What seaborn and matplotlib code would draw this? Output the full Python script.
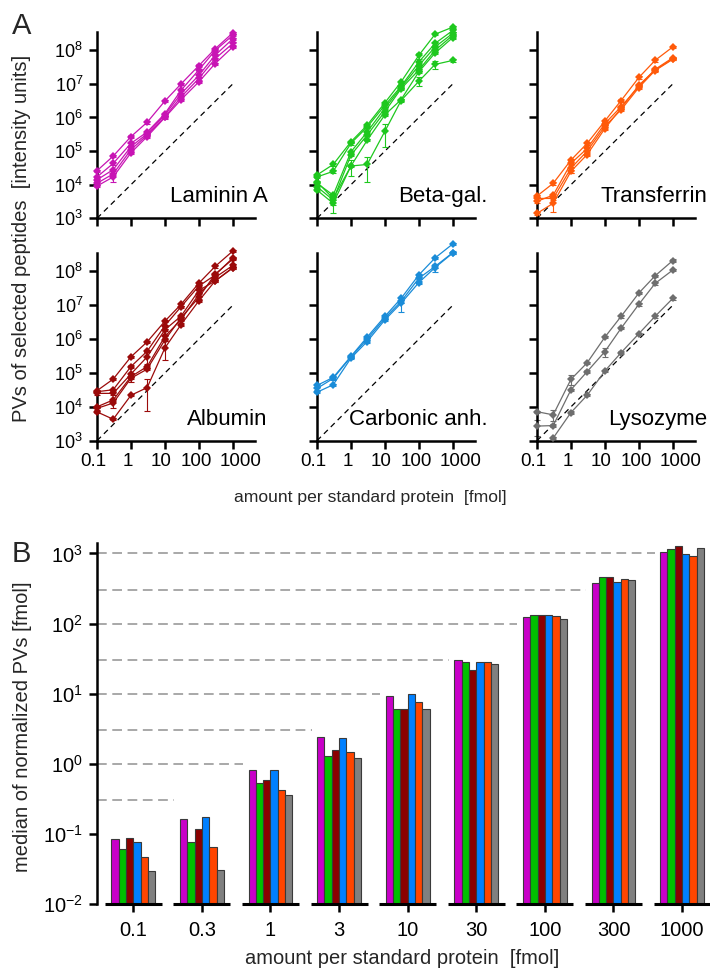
import numpy as np
import pandas as pd
import matplotlib
matplotlib.use("Agg")
import matplotlib.pyplot as plt
import matplotlib.transforms as mtransforms
import seaborn as sns
from matplotlib.ticker import FixedLocator, NullLocator, FuncFormatter, LogFormatterMathtext

# ---------------- data ----------------
amounts = [0.1, 0.3, 1, 3, 10, 30, 100, 300, 1000]
amount_labels = ["0.1", "0.3", "1", "3", "10", "30", "100", "300", "1000"]
axis_ticks_a = [0.1, 1, 10, 100, 1000]

laminin = [
    [2.6e4, 7.1e4, 2.7e5, 7.2e5, 3.1e6, 1.0e7, 3.5e7, 1.1e8, 3.3e8],
    [1.7e4, 4.3e4, 1.7e5, 3.7e5, 1.3e6, 6.5e6, 2.6e7, 9.8e7, 2.8e8],
    [1.4e4, 2.8e4, 1.35e5, 3.3e5, 1.2e6, 5.1e6, 1.8e7, 7.1e7, 2.2e8],
    [1.1e4, 2.1e4, 1.1e5, 3.0e5, 1.05e6, 4.1e6, 1.45e7, 5.6e7, 1.6e8],
    [9.1e3, 1.7e4, 8.9e4, 2.7e5, 1.0e6, 3.4e6, 1.15e7, 4.0e7, 1.26e8],
]
beta_gal = [
    [1.95e4, 4.0e4, 1.9e5, 5.9e5, 2.75e6, 1.15e7, 7.1e7, 3.0e8, 4.9e8],
    [1.7e4, 2.5e4, 1.7e5, 5.2e5, 2.3e6, 8.5e6, 4.5e7, 1.6e8, 3.9e8],
    [1.1e4, 4.9e3, 9.5e4, 3.7e5, 1.9e6, 7.8e6, 3.5e7, 1.26e8, 3.2e8],
    [8.7e3, 3.5e3, 7.6e4, 3.0e5, 1.5e6, 7.2e6, 2.6e7, 1.0e8, 2.8e8],
    [6.9e3, 2.8e3, 3.6e4, 2.1e5, 1.2e6, 3.4e6, 2.3e7, 8.3e7, 2.4e8],
    [1.2e4, 3.9e3, 3.6e4, 4.0e4, 3.9e5, 3.2e6, 1.2e7, 3.8e7, 5.0e7],
]
transferrin = [
    [4.6e3, 1.1e4, 5.4e4, 1.7e5, 7.9e5, 3.2e6, 1.55e7, 5.0e7, 1.26e8],
    [3.2e3, 4.9e3, 4.3e4, 1.2e5, 6.6e5, 2.1e6, 8.5e6, 2.7e7, 6.0e7],
    [3.9e3, 3.9e3, 3.1e4, 1.0e5, 5.5e5, 1.7e6, 7.8e6, 2.5e7, 5.4e7],
    [1.4e3, 2.8e3, 2.5e4, 7.9e4, 4.7e5, 1.9e6, 9.1e6, 2.6e7, 5.6e7],
]
albumin = [
    [3.0e4, 6.6e4, 3.0e5, 8.3e5, 3.4e6, 1.07e7, 4.5e7, 1.4e8, 4.0e8],
    [2.8e4, 3.2e4, 1.55e5, 4.4e5, 2.5e6, 9.1e6, 3.7e7, 7.8e7, 2.5e8],
    [2.5e4, 2.5e4, 9.3e4, 3.0e5, 1.9e6, 4.8e6, 2.75e7, 5.2e7, 1.3e8],
    [1.0e4, 1.6e4, 7.8e4, 1.55e5, 1.2e6, 3.8e6, 2.1e7, 6.6e7, 1.5e8],
    [7.1e3, 4.3e3, 2.2e4, 3.7e4, 5.5e5, 2.7e6, 1.35e7, 5.2e7, 1.26e8],
    [9.0e3, 1.3e4, 7.0e4, 1.3e5, 9.5e5, 4.3e6, 1.7e7, 8.3e7, 2.3e8],
]
carbonic = [
    [4.3e4, 7.4e4, 3.1e5, 1.15e6, 4.7e6, 1.6e7, 7.9e7, 2.5e8, 6.5e8],
    [3.5e4, 6.9e4, 3.0e5, 1.0e6, 4.2e6, 1.3e7, 6.3e7, 1.4e8, 3.6e8],
    [2.7e4, 4.5e4, 2.75e5, 8.5e5, 3.7e6, 1.15e7, 4.7e7, 1.3e8, 3.5e8],
]
lysozyme = [
    [7.2e3, 5.8e3, 6.5e4, 2.0e5, 1.15e6, 4.7e6, 2.3e7, 7.4e7, 2.1e8],
    [2.7e3, 2.8e3, 3.2e4, 1.1e5, 4.3e5, 2.1e6, 1.07e7, 4.4e7, 1.1e8],
    [np.nan, 1.2e3, 6.8e3, 2.2e4, 1.15e5, 4.0e5, 1.45e6, 4.7e6, 1.6e7],
]

panel_names = ["Laminin A", "Beta-gal.", "Transferrin", "Albumin", "Carbonic anh.", "Lysozyme"]
panel_colors = ["#C814B4", "#1EC81E", "#FF5A0A", "#9B0A0A", "#1A8CD8", "#6E6E6E"]
panel_values = [laminin, beta_gal, transferrin, albumin, carbonic, lysozyme]

# relative (linear) error: default and notable larger ones (panel, peptide, point) -> fraction
err_default = 0.08
err_large = {
    ("Laminin A", 4, 1): 0.3,
    ("Beta-gal.", 5, 2): 0.5, ("Beta-gal.", 5, 3): 0.7, ("Beta-gal.", 5, 4): 0.65,
    ("Beta-gal.", 5, 6): 0.3, ("Beta-gal.", 5, 7): 0.25, ("Beta-gal.", 4, 1): 0.5,
    ("Beta-gal.", 3, 1): 0.3, ("Beta-gal.", 0, 6): 0.2,
    ("Transferrin", 3, 1): 0.45, ("Transferrin", 2, 2): 0.3,
    ("Albumin", 4, 3): 0.8, ("Albumin", 4, 4): 0.55, ("Albumin", 2, 3): 0.4,
    ("Albumin", 3, 2): 0.3, ("Albumin", 5, 1): 0.3,
    ("Carbonic anh.", 2, 5): 0.45, ("Carbonic anh.", 2, 7): 0.25,
    ("Lysozyme", 1, 0): 0.5, ("Lysozyme", 0, 1): 0.35, ("Lysozyme", 0, 2): 0.3,
    ("Lysozyme", 1, 4): 0.3,
}

bar_proteins = ["Laminin A", "Beta-gal.", "Albumin", "Carbonic anh.", "Transferrin", "Lysozyme"]
bar_colors = ["#C800C8", "#00C000", "#8B0000", "#0080FF", "#FF4500", "#808080"]
median_laminin = [0.085, 0.164, 0.81, 2.41, 9.37, 30.6, 124, 381, 1033]
median_beta_gal = [0.061, 0.076, 0.53, 1.30, 6.04, 28.0, 131, 459, 1153]
median_albumin = [0.0885, 0.117, 0.59, 1.57, 6.04, 21.5, 133, 459, 1259]
median_carbonic = [0.076, 0.173, 0.81, 2.35, 10.0, 28.0, 133, 398, 977]
median_transferrin = [0.0465, 0.0646, 0.416, 1.48, 7.51, 28.7, 130, 429, 927]
median_lysozyme = [0.030, 0.031, 0.357, 1.21, 6.04, 26.2, 118, 416, 1192]
bar_values = [median_laminin, median_beta_gal, median_albumin,
              median_carbonic, median_transferrin, median_lysozyme]

# ---------------- style ----------------
sns.set_style("ticks")
plt.rcParams["font.family"] = ["Liberation Sans", "DejaVu Sans"]
plt.rcParams["mathtext.fontset"] = "custom"
plt.rcParams["mathtext.rm"] = "Liberation Sans"
plt.rcParams["mathtext.it"] = "Liberation Sans:italic"
plt.rcParams["mathtext.bf"] = "Liberation Sans:bold"
plt.rcParams["lines.scale_dashes"] = False

W, H = 710, 968
fig = plt.figure(figsize=(W / 100, H / 100), dpi=100)


def px_axes(left, top, right, bottom):
    return fig.add_axes([left / W, 1 - bottom / H, (right - left) / W, (bottom - top) / H])


# ---------------- panel A ----------------
rows_a = []
for name, lines in zip(panel_names, panel_values):
    for pi, vals in enumerate(lines):
        for ai, (a, v) in enumerate(zip(amounts, vals)):
            rows_a.append(dict(protein=name, peptide=pi, idx=ai, amount=a, pv=v))
df_a = pd.DataFrame(rows_a)
df_a["err"] = [err_large.get((r.protein, r.peptide, r.idx), err_default) * r.pv
               for r in df_a.itertuples()]

# small horizontal shifts (pixels) of x tick labels, as in the original layout
xlabel_shift_px = [-4, -3, -4, -3, 8]

col_left = [97, 317, 537]
row_tb = [(32, 218.3), (253, 440.7)]
for k, (name, color) in enumerate(zip(panel_names, panel_colors)):
    r, c = divmod(k, 3)
    top, bottom = row_tb[r]
    ax = px_axes(col_left[c], top, col_left[c] + 158, bottom)
    ax.set_xscale("log")
    ax.set_yscale("log")
    sub = df_a[(df_a.protein == name) & df_a.pv.notna()]
    ax.errorbar(sub.amount, sub.pv, yerr=sub.err, fmt="none", ecolor=color,
                elinewidth=0.8, capsize=2.2, capthick=0.8, clip_on=False, zorder=2)
    sns.lineplot(data=sub, x="amount", y="pv", units="peptide", estimator=None,
                 color=color, lw=0.9, marker="D", markersize=4.5, markeredgewidth=0,
                 clip_on=False, ax=ax, zorder=3, legend=False)
    ref_x = [amounts[0], amounts[-1]]
    ax.plot(ref_x, [1e4 * x for x in ref_x], color="black", lw=0.9,
            linestyle=(0, (4, 3)), zorder=1)
    ax.set_xlim(0.1, 4500)
    ax.set_ylim(1e3, 3.5e8)
    ax.xaxis.set_major_locator(FixedLocator(axis_ticks_a))
    ax.xaxis.set_minor_locator(NullLocator())
    ax.xaxis.set_major_formatter(FuncFormatter(lambda v, p: f"{v:g}"))
    ax.yaxis.set_major_locator(FixedLocator([1e3, 1e4, 1e5, 1e6, 1e7, 1e8]))
    ax.yaxis.set_minor_locator(NullLocator())
    ax.yaxis.set_major_formatter(LogFormatterMathtext())
    ax.tick_params(direction="out", length=6, width=1.8, pad=4,
                   color="black", labelcolor="black")
    ax.tick_params(axis="y", labelsize=13)
    ax.tick_params(axis="x", labelsize=13.5, pad=3)
    if c > 0:
        ax.tick_params(axis="y", labelleft=False)
    if r == 0:
        ax.tick_params(axis="x", labelbottom=False)
    else:
        for lab, dx in zip(ax.get_xticklabels(), xlabel_shift_px):
            lab.set_transform(lab.get_transform() +
                              mtransforms.ScaledTranslation(dx / 100, 0, fig.dpi_scale_trans))
    for s in ["top", "right"]:
        ax.spines[s].set_visible(False)
    for s in ["left", "bottom"]:
        ax.spines[s].set_linewidth(1.8)
        ax.spines[s].set_color("black")
    ax.set_xlabel("")
    ax.set_ylabel("")
    ax.text(1.08, 0.085, name, transform=ax.transAxes, ha="right", va="baseline",
            fontsize=16, color="black")

fig.text(12 / W, 1 - 26 / H, "A", fontsize=21, ha="left", va="center")
fig.text(22 / W, 1 - 238 / H, "PVs of selected peptides  [intensity units]",
         rotation=90, ha="center", va="center", fontsize=14.5)
fig.text(370 / W, 1 - 497 / H, "amount per standard protein  [fmol]",
         ha="center", va="center", fontsize=12.6)

# ---------------- panel B ----------------
rows_b = []
for prot, vals in zip(bar_proteins, bar_values):
    for lab, v in zip(amount_labels, vals):
        rows_b.append(dict(amount=lab, protein=prot, median=v))
df_b = pd.DataFrame(rows_b)

axb = px_axes(97, 543, 709.5, 904)
axb.set_yscale("log")
sns.barplot(data=df_b, x="amount", y="median", hue="protein", order=amount_labels,
            hue_order=bar_proteins, palette=bar_colors, width=0.64, gap=0,
            edgecolor="#3A3A3A", linewidth=0.8, saturation=1, legend=False, ax=axb,
            zorder=3)
axb.set_ylim(1e-2, 1410)
axb.set_xlim(-0.529, 8.4)
for i, a in enumerate(amounts):
    if i > 0:
        axb.plot([-0.529, i - 0.4], [a, a], color="#9A9A9A", lw=1.2,
                 linestyle=(0, (7, 4)), zorder=1)
    axb.plot([i - 0.415, i + 0.415], [1e-2, 1e-2], color="black", lw=2.2,
             solid_capstyle="butt", clip_on=False, zorder=4)
axb.spines["bottom"].set_visible(False)
axb.spines["top"].set_visible(False)
axb.spines["right"].set_visible(False)
axb.spines["left"].set_linewidth(1.8)
axb.spines["left"].set_color("black")
axb.yaxis.set_major_locator(FixedLocator([1e-2, 1e-1, 1e0, 1e1, 1e2, 1e3]))
axb.yaxis.set_minor_locator(NullLocator())
axb.yaxis.set_major_formatter(LogFormatterMathtext())
axb.tick_params(direction="out", length=6, width=1.8, labelsize=14.5, pad=4,
                color="black", labelcolor="black")
axb.tick_params(axis="x", pad=6)
axb.set_xlabel("")
axb.set_ylabel("")

fig.text(12 / W, 1 - 554 / H, "B", fontsize=21, ha="left", va="center")
fig.text(23 / W, 1 - 727 / H, "median of normalized PVs [fmol]",
         rotation=90, ha="center", va="center", fontsize=14.5)
fig.text(402 / W, 1 - 958 / H, "amount per standard protein  [fmol]",
         ha="center", va="center", fontsize=14.5)

fig.savefig("out.png", dpi=100)
